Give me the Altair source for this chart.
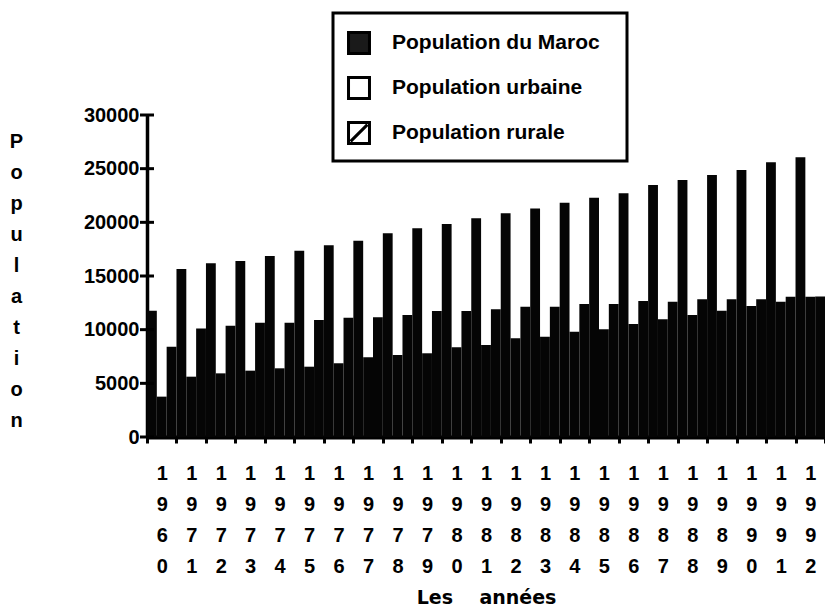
import altair as alt
import pandas as pd

years = ["1960", "1971", "1972", "1973", "1974", "1975", "1976", "1977", "1978",
         "1979", "1980", "1981", "1982", "1983", "1984", "1985", "1986", "1987",
         "1988", "1989", "1990", "1991", "1992"]
series = ["Population du Maroc", "Population urbaine", "Population rurale"]

maroc = [11770, 15650, 16180, 16400, 16860, 17360, 17860, 18290, 18980, 19440,
         19850, 20370, 20840, 21300, 21830, 22300, 22700, 23480, 23940, 24410,
         24880, 25590, 26060]
urbaine = [3760, 5620, 5930, 6180, 6400, 6550, 6870, 7430, 7640, 7800,
           8360, 8570, 9190, 9350, 9810, 10030, 10530, 10960, 11370, 11770,
           12200, 12610, 13070]
rurale = [8420, 10120, 10370, 10650, 10650, 10900, 11120, 11150, 11370, 11740,
          11740, 11900, 12140, 12140, 12390, 12390, 12670, 12610, 12830, 12830,
          12830, 13070, 13100]

y_ticks = [0, 5000, 10000, 15000, 20000, 25000, 30000]
y_title = ["P", "o", "p", "u", "l", "a", "t", "i", "o", "n"]
x_title = "Les\u00a0\u00a0\u00a0\u00a0années"

rows = []
for i, y in enumerate(years):
    rows.append({"year": y, "series": series[0], "value": maroc[i]})
    rows.append({"year": y, "series": series[1], "value": urbaine[i]})
    rows.append({"year": y, "series": series[2], "value": rurale[i]})
df = pd.DataFrame(rows)
ticks_df = pd.DataFrame({"v": y_ticks})
legend_df = pd.DataFrame({"series": series})
box_df = pd.DataFrame({"a": [0]})

FONT = "DejaVu Sans"
LFONT = "Liberation Sans"
yscale = alt.Scale(domain=[0, 30000], nice=False, zero=True)

bars = alt.Chart(df).mark_bar(color="#050505").encode(
    x=alt.X("year:N", sort=years,
            scale=alt.Scale(paddingInner=0, paddingOuter=0),
            axis=alt.Axis(title=x_title, labelAngle=0, tickBand="extent",
                          labelExpr="split(datum.label, '')",
                          labelLineHeight=31, labelPadding=20,
                          labelFont=LFONT, labelFontSize=20, labelFontWeight="bold",
                          labelColor="black",
                          labelOverlap=False, labelFlush=False,
                          tickSize=6, tickWidth=3, tickColor="black",
                          domainWidth=4, domainColor="black",
                          titleFont=FONT, titleFontSize=19, titleFontWeight="bold",
                          titleColor="black",
                          titleY=166, titleBaseline="alphabetic")),
    xOffset=alt.XOffset("series:N", sort=series, scale=alt.Scale(paddingInner=0, paddingOuter=0)),
    y=alt.Y("value:Q", scale=yscale,
            axis=alt.Axis(values=y_ticks, format="d", grid=False, ticks=False,
                          labelPadding=8, labelFont=LFONT, labelFontSize=20,
                          labelFontWeight="bold", labelColor="black",
                          domainWidth=3.5, domainColor="black",
                          title=y_title, titleAngle=0, titleAlign="center",
                          titleBaseline="top", titleX=-131, titleY=16,
                          titleLineHeight=31, titleFont=LFONT, titleFontSize=20,
                          titleFontWeight="bold", titleColor="black")),
)

crosses = alt.Chart(ticks_df).mark_rule(color="black", strokeWidth=3).encode(
    y=alt.Y("v:Q", scale=yscale, axis=None),
    x=alt.value(-7),
    x2=alt.value(7),
)

box = alt.Chart(box_df).mark_rect(filled=False, stroke="black", strokeWidth=3).encode(
    x=alt.value(186), x2=alt.value(480), y=alt.value(-102), y2=alt.value(46)
)

leg_y = alt.Y("series:N", sort=series,
              scale=alt.Scale(type="point", range=[-72, 18], padding=0), axis=None)

shapes = ["square", "square", "M-1,-1H1V1H-1Z M-0.8,0.8L0.8,-0.8"]
symbols = alt.Chart(legend_df).mark_point(
    filled=True, size=440, stroke="black", strokeWidth=3, opacity=1
).encode(
    x=alt.value(212),
    y=leg_y,
    shape=alt.Shape("series:N", scale=alt.Scale(domain=series, range=shapes), legend=None),
    fill=alt.Fill("series:N", scale=alt.Scale(domain=series, range=["#1a1a1a", "white", "white"]),
                  legend=None),
)

labels = alt.Chart(legend_df).mark_text(
    align="left", baseline="middle", font=LFONT, fontSize=21, fontWeight="bold", color="black"
).encode(
    x=alt.value(245),
    y=leg_y,
    text="series:N",
)

chart = alt.layer(bars, crosses, box, symbols, labels).resolve_scale(
    y="independent"
).properties(
    width=678, height=322,
    autosize=alt.AutoSizeParams(type="none"),
    padding={"left": 147, "top": 115, "right": 0, "bottom": 175},
    background="white",
).configure_view(stroke=None)

chart.save("out.html", embed_options={"renderer": "svg", "actions": False})
